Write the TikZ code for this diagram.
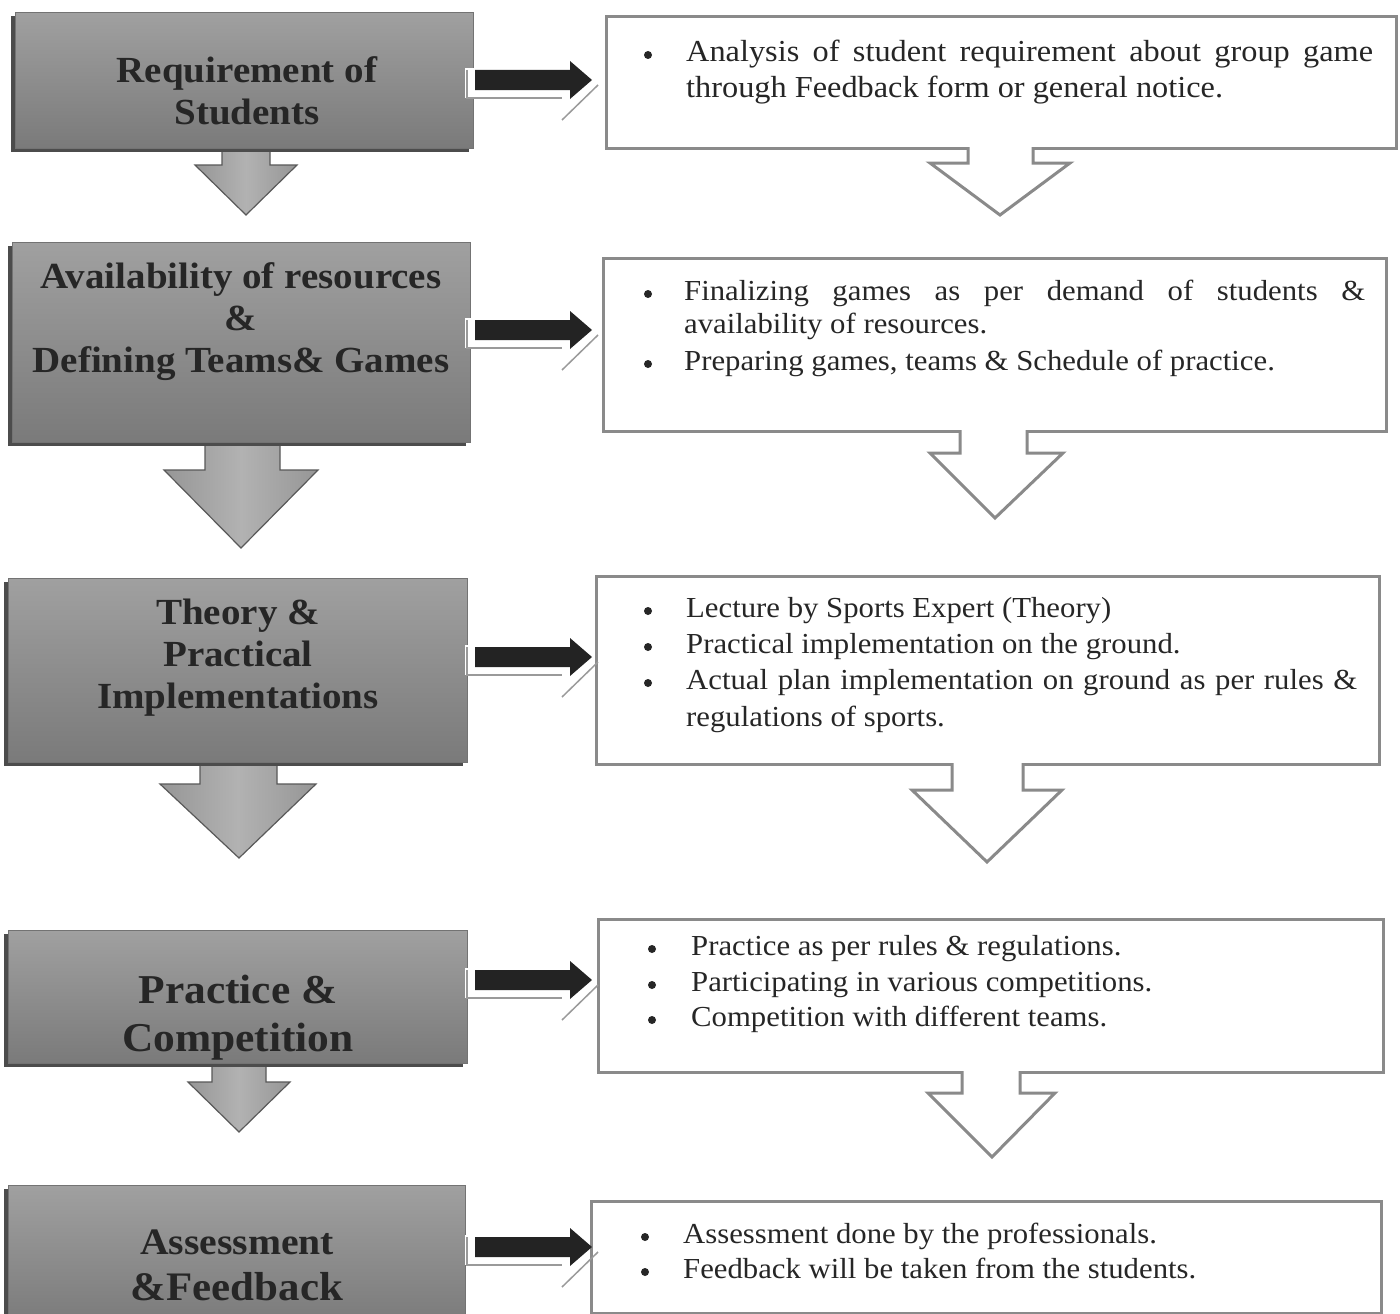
\documentclass[tikz,border=0pt]{standalone}
\usepackage{fontspec}
\setmainfont{Liberation Serif}[FakeStretch=1.06]
\usetikzlibrary{shadows}
\definecolor{boxtop}{HTML}{A0A0A0}
\definecolor{boxmid}{HTML}{B8B8B8}
\definecolor{boxbot}{HTML}{7A7A7A}
\definecolor{txt}{HTML}{262626}
\definecolor{frame}{HTML}{8A8A8A}
\definecolor{edgegray}{HTML}{9A9A9A}
\definecolor{arrowdark}{HTML}{232323}
\definecolor{arrowside}{HTML}{7A7A7A}
\definecolor{arrowmid}{HTML}{B2B2B2}
\pgfdeclarehorizontalshading{grayarrowshade}{100bp}{color(0bp)=(arrowside); color(50bp)=(arrowmid); color(100bp)=(arrowside)}
\newcommand\flowarrow[1]{%
  \fill[white] (465,#1-12) rectangle (563,#1+18);
  \draw[edgeline] (467,#1-10) -- (467,#1+18) -- (562,#1+18);
  \draw[edgeline] (562,#1+40) -- (598,#1+5);
  \fill[barrow] (475,#1-10) -- (570,#1-10) -- (570,#1-19) -- (592,#1) -- (570,#1+19) -- (570,#1+10) -- (475,#1+10) -- cycle;
}
\begin{document}
\begin{tikzpicture}[x=1pt,y=-1pt,
  lbox/.style={draw=black!55, line width=0.8pt, top color=boxtop, middle color=boxmid, bottom color=boxbot,
    inner sep=0pt, anchor=north west,
    drop shadow={shadow xshift=-4pt, shadow yshift=-4pt, fill=black!70, opacity=1}},
  rbox/.style={draw=frame, line width=3pt, fill=white, inner sep=0pt, anchor=north west},
  garrow/.style={shading=grayarrowshade, draw=black!65, line width=1.2pt, line join=miter},
  hfill/.style={fill=white},
  hline/.style={draw=frame, line width=3pt, line join=miter},
  barrow/.style={fill=arrowdark},
  edgeline/.style={draw=edgegray, line width=1.5pt},
  ltxt/.style={align=center, inner sep=0pt, text=txt, font=\bfseries\fontsize{36.8}{42}\selectfont},
  rtxt/.style={anchor=mid west, inner sep=0pt, yshift=-7pt, text=txt, font=\fontsize{29}{36}\selectfont},
  bul/.style={circle, fill=txt, inner sep=0pt, minimum size=8pt, yshift=-3pt}
]
\useasboundingbox (0,0) rectangle (1400,1314);
\fill[white] (0,0) rectangle (1400,1314);
\clip (0,0) rectangle (1400,1314);

% ---------- gray down arrows (left column) ----------
\shadedraw[garrow] (222,140) -- (222,165) -- (195,165) -- (246,215) -- (297,165) -- (270,165) -- (270,140) -- cycle;
\shadedraw[garrow] (205,434) -- (205,470) -- (164,470) -- (241,548) -- (318,470) -- (280,470) -- (280,434) -- cycle;
\shadedraw[garrow] (200,754) -- (200,784) -- (160,784) -- (239,858) -- (316,784) -- (277,784) -- (277,754) -- cycle;
\shadedraw[garrow] (212,1055) -- (212,1082) -- (188,1082) -- (239,1132) -- (290,1082) -- (266,1082) -- (266,1055) -- cycle;

% ---------- left boxes ----------
\node[lbox, minimum width=458pt, minimum height=136pt] (b1) at (15,12) {};
\node[lbox, minimum width=458pt, minimum height=200pt] (b2) at (12,242) {};
\node[lbox, minimum width=459pt, minimum height=184pt] (b3) at (8,578) {};
\node[lbox, minimum width=459pt, minimum height=133pt] (b4) at (8,930) {};
\node[lbox, minimum width=457pt, minimum height=140pt] (b5) at (8,1185) {};

\node[ltxt] (t1) at (247,91) {Requirement of\\Students};
\node[ltxt] (t2) at (241,322) {Availability of resources\\\&\\Defining Teams\& Games};
\node[ltxt] (t3) at (238,658) {Theory \&\\Practical\\Implementations};
\node[ltxt, font=\bfseries\fontsize{41}{48}\selectfont] (t4) at (238,1018) {Practice \&\\Competition};
\node[ltxt, font=\bfseries\fontsize{37.4}{44}\selectfont] (t5a) at (237,1242) {Assessment};
\node[ltxt, font=\bfseries\fontsize{40.5}{44}\selectfont] (t5b) at (237,1287) {\&Feedback};

% ---------- right boxes ----------
\node[rbox, minimum width=790pt, minimum height=132pt] (r1) at (605,15) {};
\node[rbox, minimum width=783pt, minimum height=173pt] (r2) at (602,257) {};
\node[rbox, minimum width=783pt, minimum height=188pt] (r3) at (595,575) {};
\node[rbox, minimum width=785pt, minimum height=153pt] (r4) at (597,918) {};
\node[rbox, minimum width=790pt, minimum height=112pt] (r5) at (590,1200) {};

% ---------- hollow down arrows (right column) ----------
\fill[hfill] (968,143) -- (968,163) -- (930,163) -- (1000,215) -- (1070,163) -- (1033,163) -- (1033,143) -- cycle;
\draw[hline] (968,147) -- (968,163) -- (930,163) -- (1000,215) -- (1070,163) -- (1033,163) -- (1033,147);
\fill[hfill] (960,426) -- (960,453) -- (930,453) -- (995,518) -- (1063,453) -- (1027,453) -- (1027,426) -- cycle;
\draw[hline] (960,430) -- (960,453) -- (930,453) -- (995,518) -- (1063,453) -- (1027,453) -- (1027,430);
\fill[hfill] (952,761) -- (952,790) -- (912,790) -- (987,862) -- (1062,790) -- (1023,790) -- (1023,761) -- cycle;
\draw[hline] (952,763) -- (952,790) -- (912,790) -- (987,862) -- (1062,790) -- (1023,790) -- (1023,763);
\fill[hfill] (962,1067) -- (962,1093) -- (928,1093) -- (992,1157) -- (1055,1093) -- (1020,1093) -- (1020,1067) -- cycle;
\draw[hline] (962,1071) -- (962,1093) -- (928,1093) -- (992,1157) -- (1055,1093) -- (1020,1093) -- (1020,1071);

% ---------- black arrows between columns ----------
\flowarrow{80}
\flowarrow{330}
\flowarrow{657}
\flowarrow{980}
\flowarrow{1247}

% ---------- right texts ----------
\node[bul] (r1d1) at (648,52) {};
\node[rtxt, font=\fontsize{30.5}{36}\selectfont] (r1l1) at (686,52) {\makebox[687pt][s]{Analysis of student requirement about group game}};
\node[rtxt, font=\fontsize{30.5}{36}\selectfont] (r1l2) at (686,88) {through Feedback form or general notice.};

\node[bul] (r2d1) at (648,291) {};
\node[rtxt] (r2l1) at (684,291) {\makebox[681pt][s]{Finalizing games as per demand of students \&}};
\node[rtxt] (r2l2) at (684,324) {availability of resources.};
\node[bul] (r2d2) at (648,361) {};
\node[rtxt] (r2l3) at (684,361) {Preparing games, teams \& Schedule of practice.};

\node[bul] (r3d1) at (648,608) {};
\node[rtxt] (r3l1) at (686,608) {Lecture by Sports Expert (Theory)};
\node[bul] (r3d2) at (648,644) {};
\node[rtxt] (r3l2) at (686,644) {Practical implementation on the ground.};
\node[bul] (r3d3) at (648,680) {};
\node[rtxt] (r3l3) at (686,680) {\makebox[671pt][s]{Actual plan implementation on ground as per rules \&}};
\node[rtxt] (r3l4) at (686,717) {regulations of sports.};

\node[bul] (r4d1) at (652,946) {};
\node[rtxt] (r4l1) at (691,946) {Practice as per rules \& regulations.};
\node[bul] (r4d2) at (652,982) {};
\node[rtxt] (r4l2) at (691,982) {Participating in various competitions.};
\node[bul] (r4d3) at (652,1017) {};
\node[rtxt] (r4l3) at (691,1017) {Competition with different teams.};

\node[bul] (r5d1) at (645,1234) {};
\node[rtxt] (r5l1) at (683,1234) {Assessment done by the professionals.};
\node[bul] (r5d2) at (645,1269) {};
\node[rtxt] (r5l2) at (683,1269) {Feedback will be taken from the students.};
\end{tikzpicture}
\end{document}
